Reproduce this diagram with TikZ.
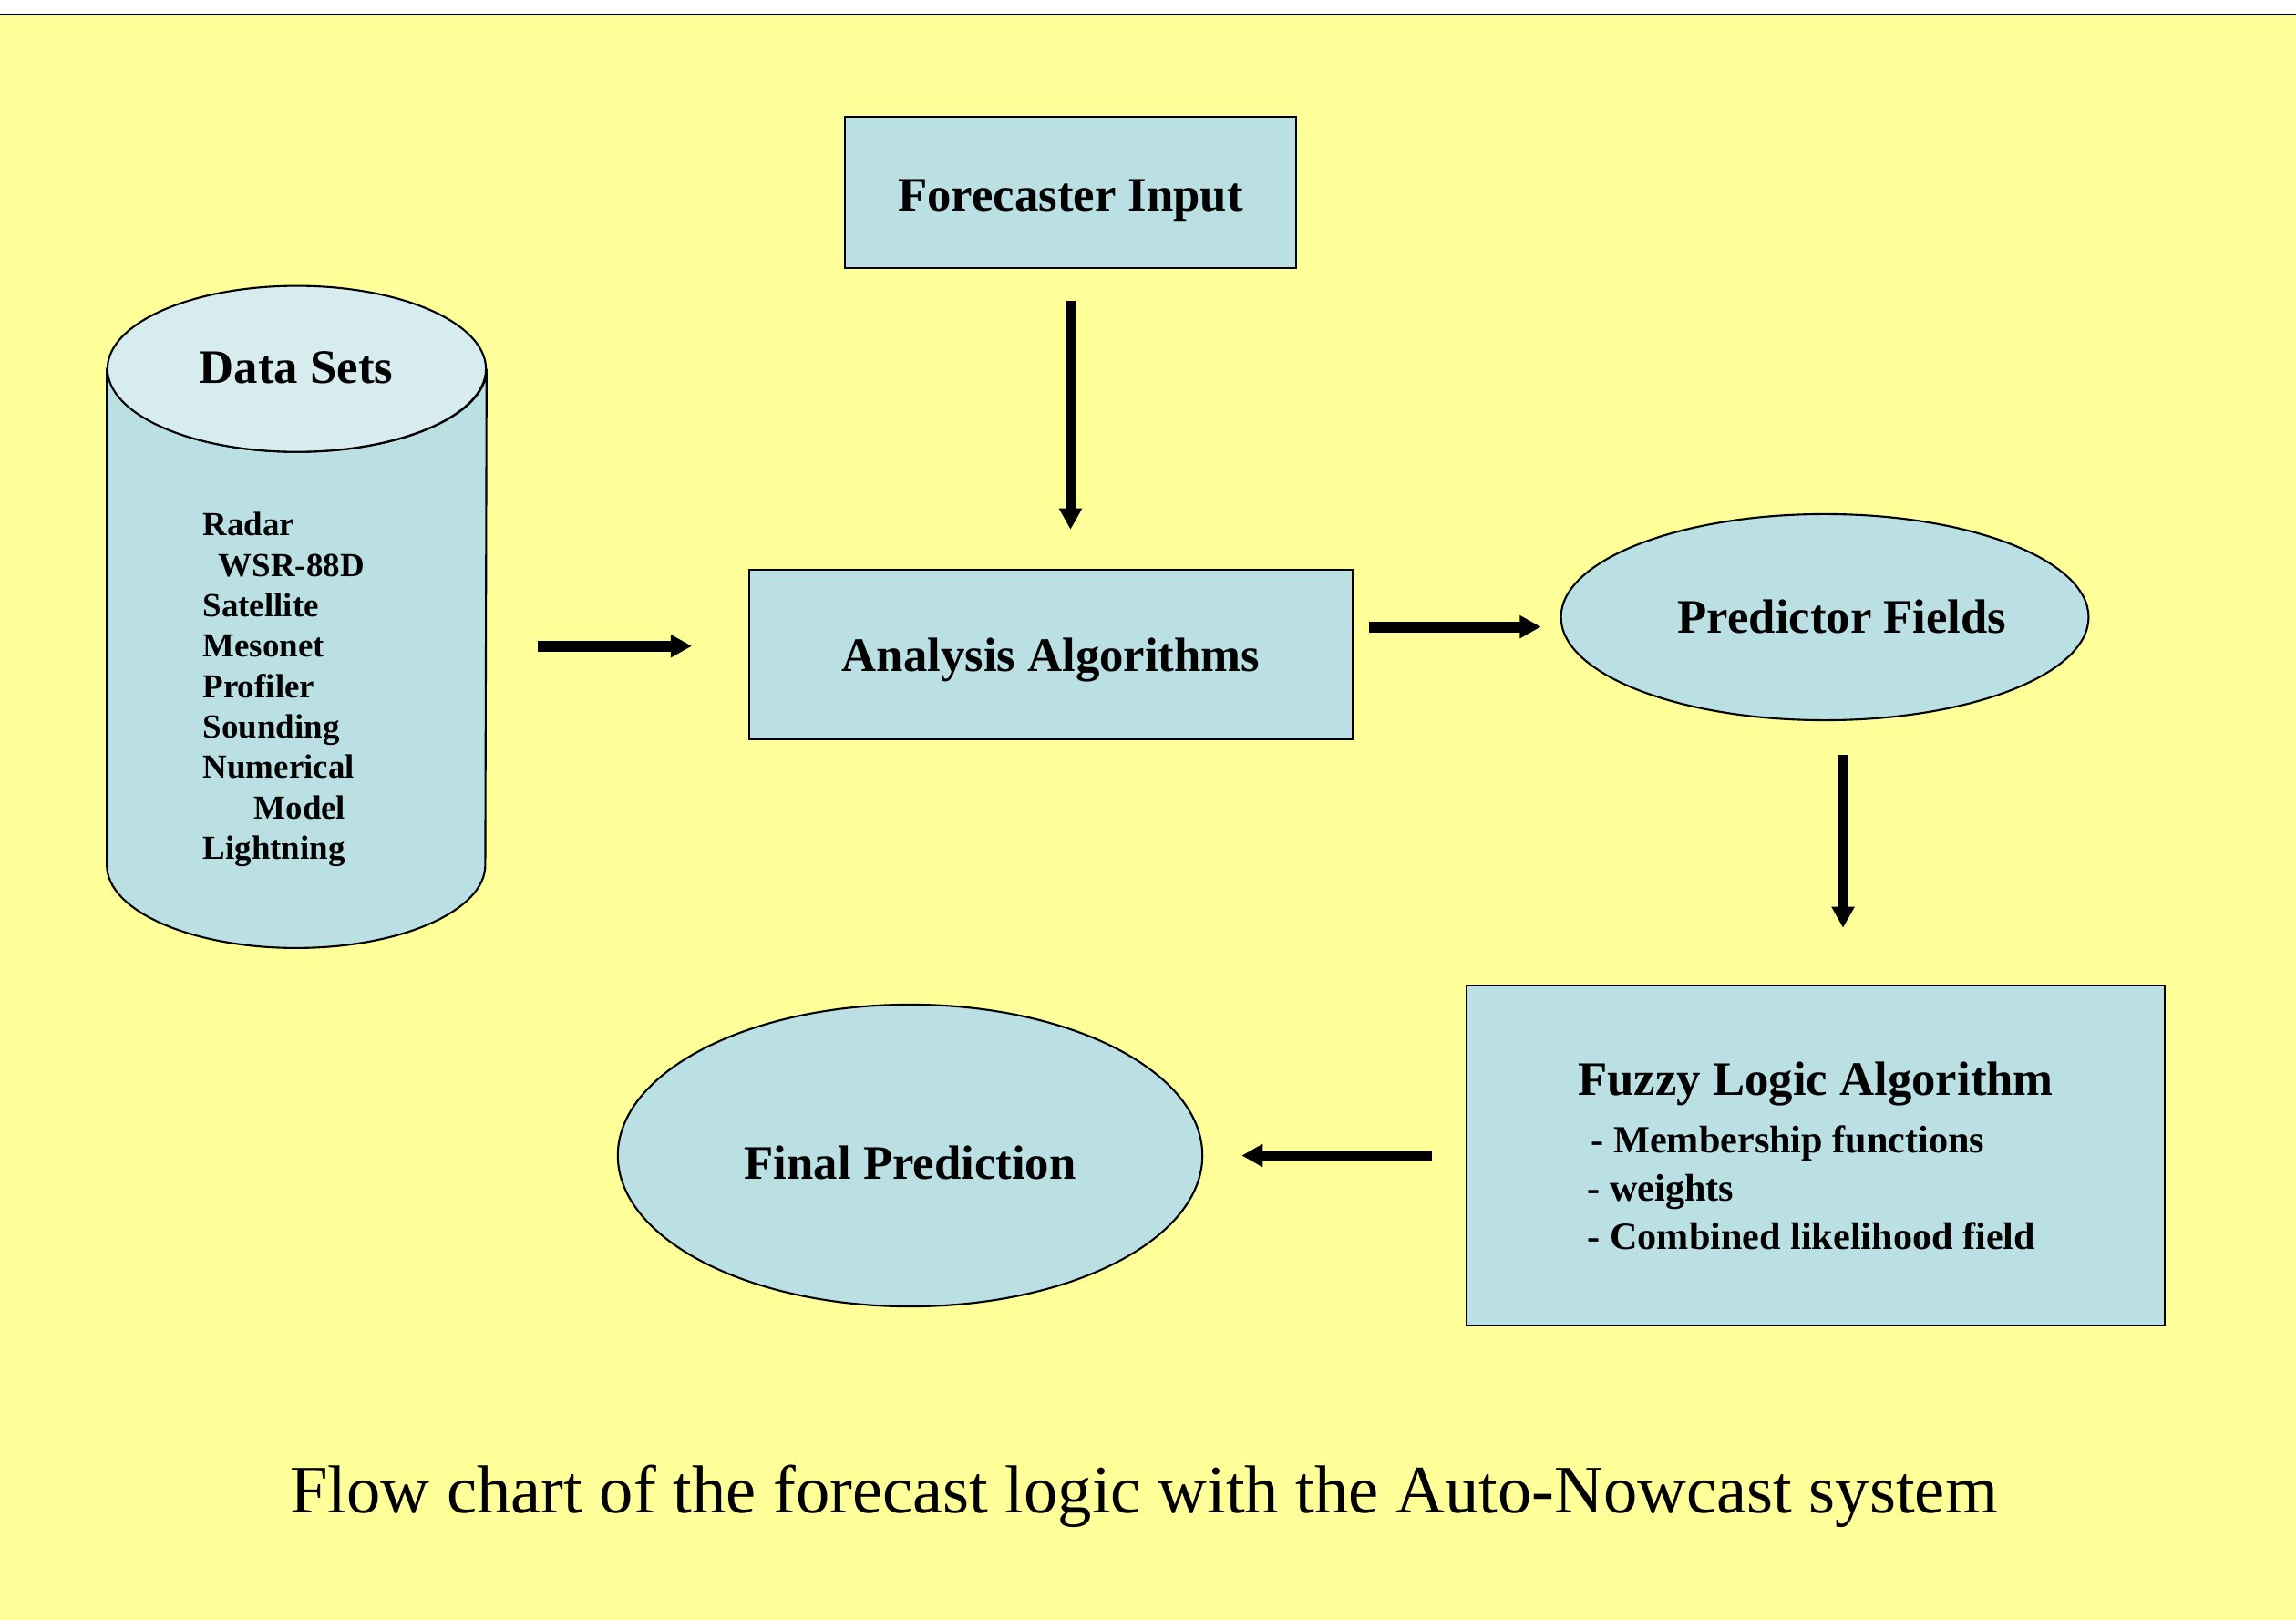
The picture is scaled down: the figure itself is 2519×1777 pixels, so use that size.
\documentclass[tikz,border=0pt]{standalone}
\usepackage{fontspec}
\setmainfont{Liberation Serif}
\usetikzlibrary{shapes.geometric,arrows.meta}
\definecolor{bgyellow}{HTML}{FFFF99}
\definecolor{boxblue}{HTML}{BBE0E3}
\definecolor{topblue}{HTML}{D6ECEF}

\begin{document}
\begin{tikzpicture}[x={(0.01cm,0cm)}, y={(0cm,-0.01cm)},
  box/.style={draw,rectangle,fill=boxblue,line width=0.6pt,inner sep=0pt,text depth=0pt,font=\fontsize{15}{18}\selectfont\bfseries},
  oval/.style={draw,ellipse,fill=boxblue,line width=0.6pt,inner sep=0pt,text depth=0pt,font=\fontsize{15}{18}\selectfont\bfseries},
  flow/.style={line width=3.4pt,-{Triangle[length=6.6pt,width=6.8pt]}}]
  \useasboundingbox (0,0) rectangle (2519,1777);
  % Background
  \fill[white] (0,0) rectangle (2519,16);
  \fill[bgyellow] (0,16) rectangle (2519,1777);
  \draw[line width=0.7pt] (0,16) -- (2519,16);

  % Nodes
  \node[box,minimum width=4.95cm,minimum height=1.655cm,text height=11.8pt] (Forecaster) at (1174.5,211) {Forecaster Input};
  \node[box,minimum width=6.615cm,minimum height=1.86cm,text height=10.6pt] (Analysis) at (1153,718) {Analysis Algorithms};
  \node[oval,minimum width=5.785cm,minimum height=2.26cm,text height=10.2pt] (Predictor) at (2002,677) {\hspace*{0.38cm}Predictor Fields};
  \node[box,minimum width=7.65cm,minimum height=3.72cm,align=left,text depth=,font=\fontsize{12}{15}\selectfont\bfseries] (Fuzzy) at (1992,1267.5)
    {\fontsize{15}{18}\selectfont Fuzzy Logic Algorithm\\[3pt]
     \hspace*{0.145cm}- Membership functions\\
     \hspace*{0.105cm}- weights\\
     \hspace*{0.105cm}- Combined likelihood field};
  \node[oval,minimum width=6.41cm,minimum height=3.31cm,text height=14.6pt] (Final) at (998.5,1267.5) {Final Prediction};

  % Cylinder
  \node[minimum width=4.15cm,minimum height=7.245cm,inner sep=0pt] (DataSets) at (325.5,676.75) {};
  \path[draw,fill=boxblue,line width=0.6pt] ([yshift=-0.91cm]DataSets.north west)
    -- ([yshift=0.91cm]DataSets.south west)
    arc[start angle=180,end angle=360,x radius=2.075cm,y radius=0.91cm]
    -- ([yshift=-0.91cm]DataSets.north east)
    arc[start angle=0,end angle=-180,x radius=2.075cm,y radius=0.91cm] -- cycle;
  \path[draw,fill=topblue,line width=0.6pt] ([yshift=-0.91cm]DataSets.north) ellipse[x radius=2.075cm,y radius=0.91cm];
  \node[font=\fontsize{15}{18}\selectfont\bfseries] (DataLabel) at (325,403) {Data Sets};
  \node[anchor=west,align=left,inner sep=0pt,font=\fontsize{10.5}{12.6}\selectfont\bfseries] (Sources) at (222,756.5)
    {Radar\\ \hspace*{0.17cm}WSR-88D\\ Satellite\\ Mesonet\\ Profiler\\ Sounding\\ Numerical\\ \hspace*{0.56cm}Model\\ Lightning};

  % Caption
  \node[font=\fontsize{21.2}{25}\selectfont] (Caption) at (1255,1641) {Flow chart of the forecast logic with the Auto-Nowcast system};

  % Edges
  \draw[flow] ([yshift=-0.35cm]Forecaster.south) -- ([yshift=0.43cm]Forecaster.south |- Analysis.north);
  \draw[flow] ([xshift=0.56cm,yshift=0.093cm]DataSets.east |- Analysis.west) -- ([xshift=-0.62cm,yshift=0.093cm]Analysis.west);
  \draw[flow] ([xshift=0.165cm,yshift=-0.106cm]Analysis.east |- Predictor.west) -- ([xshift=-0.21cm,yshift=-0.106cm]Predictor.west);
  \draw[flow] ([xshift=0.2cm,yshift=-0.37cm]Predictor.south) -- ([xshift=0.2cm,yshift=0.625cm]Predictor.south |- Fuzzy.north);
  \draw[flow] ([xshift=-0.37cm]Fuzzy.west) -- ([xshift=0.42cm]Final.east);
\end{tikzpicture}
\end{document}
